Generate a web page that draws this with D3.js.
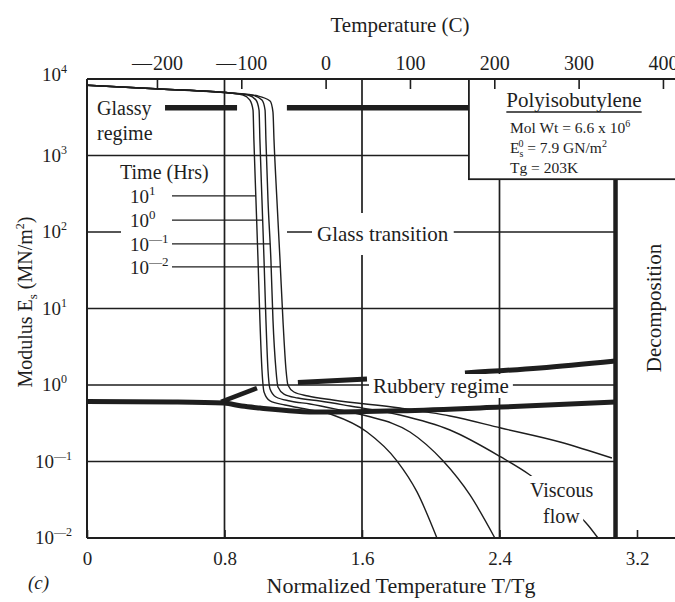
<!DOCTYPE html>
<html><head><meta charset="utf-8">
<script src="https://cdn.jsdelivr.net/npm/d3@7"></script>
<style>
body{margin:0;background:#fff}
svg{display:block}
text{font-family:"Liberation Serif","Times New Roman",serif;fill:#1e1e1e}
</style>
</head><body>
<svg id="chart" width="675" height="602"></svg>
<script>
// ---------- data ----------
const xTickValues = [0, 0.8, 1.6, 2.4, 3.2];
const yTickExponents = [4, 3, 2, 1, 0, -1, -2];
const topTickCelsius = [-200, -100, 0, 100, 200, 300, 400];
const timeExponents = ["1", "0", "—1", "—2"];
const timeLeaderE = [296, 143, 70, 35];

// shared glassy part of the four isochrones (T/Tg, modulus MN/m^2)
const glassyCommon = [[0, 8300], [0.425, 7400], [0.832, 6560]];
const curveHr10 = [[0.908,6180],[0.948,5310],[0.966,3930],[0.971,1600],[0.983,262],[0.995,43],[1.006,7.1],[1.018,1.57],[1.030,0.81],[1.065,0.618],[1.152,0.548],[1.239,0.50],[1.431,0.405],[1.629,0.243],[1.803,0.102],[1.920,0.040],[2.036,0.01]];
const curveHr1 = [[0.937,6180],[0.983,5310],[1.001,3930],[1.006,1600],[1.018,262],[1.030,43],[1.041,7.1],[1.053,1.57],[1.065,0.887],[1.0995,0.697],[1.181,0.618],[1.297,0.565],[1.472,0.471],[1.629,0.393],[1.879,0.243],[2.071,0.102],[2.228,0.0365],[2.373,0.01]];
const curveHr01 = [[0.960,6180],[1.018,5310],[1.036,3930],[1.041,1600],[1.053,262],[1.070,43],[1.082,7.1],[1.0995,1.57],[1.111,0.94],[1.146,0.762],[1.227,0.676],[1.355,0.618],[1.530,0.531],[1.821,0.405],[2.112,0.258],[2.408,0.1146],[2.577,0.0667],[2.781,0.0287],[2.914,0.0148],[2.973,0.01]];
const curveHr001 = [[0.995,5990],[1.065,5150],[1.082,3700],[1.088,1600],[1.105,262],[1.123,43],[1.140,7.1],[1.158,1.57],[1.169,1.0],[1.204,0.81],[1.286,0.718],[1.431,0.637],[1.821,0.50],[2.112,0.393],[2.408,0.274],[2.752,0.180],[3.054,0.111]];

// regime boundaries
const glassyBarE = 4200;
const glassyBarSpans = [[0.454, 0.873], [1.163, 2.222]];
const rubberyLower = [[0,0.61],[0.5,0.6],[0.797,0.58],[0.9,0.53],[1.006,0.50],[1.355,0.443],[1.821,0.46],[2.408,0.515],[3.075,0.60]];
const rubberyWedge = [[0.78,0.6],[0.989,0.91]];
const rubberyUpperA = [[1.227,1.08],[1.629,1.2]];
const rubberyUpperB = [[2.199,1.44],[2.635,1.67],[3.075,2.06]];
const decompositionT = 3.075;
const boxLeftT = 2.222, boxBottomE = 490;

// ---------- scales ----------
const svg = d3.select("#chart");
const x = d3.scaleLinear().domain([0, 3.2]).range([87, 637]);
const y = d3.scaleLog().domain([0.01, 10000]).range([538, 79]);
const xTop = d3.scaleLinear().domain([-200, 400]).range([x(0.407), x(3.351)]);
const xRightEdge = 676;

svg.append("rect").attr("width",675).attr("height",602).attr("fill","#fff");

const ink = "#1e1e1e";
const line = d3.line().x(d=>x(d[0])).y(d=>y(d[1]));
const smooth = d3.line().x(d=>x(d[0])).y(d=>y(d[1])).curve(d3.curveMonotoneX);

// ---------- grid ----------
const g = svg.append("g");
yTickExponents.filter(e=>e<4 && e>-2).forEach(e=>{
  g.append("line").attr("x1",x(0)).attr("x2",x(decompositionT))
   .attr("y1",y(10**e)).attr("y2",y(10**e))
   .attr("stroke",ink).attr("stroke-width",1.6);
});
// gap in the 10^2 line behind the time legend
g.append("rect").attr("x",121).attr("y",y(100)-3).attr("width",166).attr("height",6).attr("fill","#fff");
xTickValues.filter(v=>v>0 && v<3).forEach(v=>{
  g.append("line").attr("x1",x(v)).attr("x2",x(v))
   .attr("y1",y(1e4)).attr("y2",y(0.01))
   .attr("stroke",ink).attr("stroke-width",1.7);
});

// frame
g.append("line").attr("x1",x(0)).attr("x2",x(0)).attr("y1",y(1e4)).attr("y2",y(0.01)).attr("stroke",ink).attr("stroke-width",2);
g.append("line").attr("x1",x(0)).attr("x2",xRightEdge).attr("y1",y(1e4)).attr("y2",y(1e4)).attr("stroke",ink).attr("stroke-width",2);
g.append("line").attr("x1",x(0)).attr("x2",xRightEdge).attr("y1",y(0.01)).attr("y2",y(0.01)).attr("stroke",ink).attr("stroke-width",2);

// ---------- axes ----------
const topAxis = d3.axisTop(xTop).tickValues(topTickCelsius).tickSizeInner(-10).tickSizeOuter(0).tickPadding(9)
  .tickFormat(d => d < 0 ? "— " + Math.abs(d) : String(d));
const ta = svg.append("g").attr("transform",`translate(0,${y(1e4)})`).call(topAxis);
ta.select(".domain").remove();
ta.selectAll("line").attr("stroke",ink).attr("stroke-width",1.6);
ta.selectAll("text").attr("font-size",20).attr("fill",ink).style("font-family","'Liberation Serif',serif").style("word-spacing","-4px");

const bottomAxis = d3.axisBottom(x).tickValues(xTickValues).tickSizeInner(-8).tickSizeOuter(0).tickPadding(14)
  .tickFormat(d => d === 0 ? "0" : d.toFixed(1));
const ba = svg.append("g").attr("transform",`translate(0,${y(0.01)})`).call(bottomAxis);
ba.select(".domain").remove();
ba.selectAll("line").attr("stroke",ink).attr("stroke-width",1.6);
ba.selectAll("text").attr("font-size",19).attr("fill",ink).style("font-family","'Liberation Serif',serif");

function pow(sel, base, exp, baseSize, supSize, rise){
  sel.append("tspan").text(base).attr("font-size",baseSize);
  sel.append("tspan").text(exp).attr("font-size",supSize).attr("dy",-rise);
}
yTickExponents.forEach(e=>{
  const t = svg.append("text").attr("x", e >= 0 ? 42 : 35).attr("y", y(10**e) + 6 - (e===4?4:0));
  pow(t, "10", e < 0 ? "—" + Math.abs(e) : String(e), 19, 12, 8);
});

// axis titles
svg.append("text").attr("x",400).attr("y",32).attr("text-anchor","middle").attr("font-size",21).text("Temperature (C)");
svg.append("text").attr("x",401).attr("y",593).attr("text-anchor","middle").attr("font-size",22).text("Normalized Temperature T/Tg");
svg.append("text").attr("x",28).attr("y",589).attr("font-size",19).attr("font-style","italic").text("(c)");
{
  const t = svg.append("text").attr("transform","translate(32,302) rotate(-90)").attr("text-anchor","middle").attr("font-size",20);
  t.append("tspan").text("Modulus E");
  t.append("tspan").text("s").attr("font-size",13).attr("dy",5);
  t.append("tspan").text(" (MN/m").attr("dy",-5);
  t.append("tspan").text("2").attr("font-size",12).attr("dy",-8);
  t.append("tspan").text(")").attr("dy",8);
}

// ---------- regime boundaries ----------
const thick = svg.append("g").attr("fill","none").attr("stroke",ink).attr("stroke-linecap","butt");
glassyBarSpans.forEach(s=>{
  thick.append("path").attr("d", line([[s[0],glassyBarE],[s[1],glassyBarE]])).attr("stroke-width",5.5);
});
thick.append("path").attr("d", smooth(rubberyLower)).attr("stroke-width",5);
thick.append("path").attr("d", line(rubberyWedge)).attr("stroke-width",4.5);
thick.append("path").attr("d", line(rubberyUpperA)).attr("stroke-width",5);
thick.append("path").attr("d", smooth(rubberyUpperB)).attr("stroke-width",5);
thick.append("line").attr("x1",x(decompositionT)).attr("x2",x(decompositionT)).attr("y1",y(1e4)).attr("y2",y(0.01)).attr("stroke-width",4.5);

// ---------- isochrones ----------
const curves = [curveHr10, curveHr1, curveHr01, curveHr001].map(c => glassyCommon.concat(c));
const cg = svg.append("g").attr("fill","none").attr("stroke",ink).attr("stroke-width",1.4);
curves.forEach(c => cg.append("path").attr("d", smooth(c)));

// time legend
svg.append("text").attr("x",120).attr("y",179).attr("font-size",20).text("Time (Hrs)");
function curveXAtY(c, yPix){
  const pts = c.map(d=>[x(d[0]), y(d[1])]);
  for (let i=1;i<pts.length;i++){
    const a=pts[i-1], b=pts[i];
    if ((a[1]-yPix)*(b[1]-yPix) <= 0 && a[1]!==b[1]){
      return a[0] + (b[0]-a[0])*(yPix-a[1])/(b[1]-a[1]);
    }
  }
  return pts[pts.length-1][0];
}
timeExponents.forEach((e,i)=>{
  const yy = y(timeLeaderE[i]);
  svg.append("line").attr("x1",172).attr("x2",curveXAtY(curves[i], yy)).attr("y1",yy).attr("y2",yy)
    .attr("stroke",ink).attr("stroke-width",1.3);
  const t = svg.append("text").attr("x",130).attr("y",yy+7);
  pow(t, "10", e, 19, 13, 8);
});

// ---------- annotations ----------
function label(txt, xx, yy, size, pad){
  const t = svg.append("text").attr("x",xx).attr("y",yy).attr("font-size",size).text(txt);
  const b = t.node().getBBox();
  svg.insert("rect", () => t.node()).attr("x",b.x-pad[0]).attr("y",b.y-pad[1]).attr("width",b.width+2*pad[0]).attr("height",b.height+2*pad[1]).attr("fill","#fff");
  return t;
}
svg.append("text").attr("x",97).attr("y",115).attr("font-size",20).text("Glassy");
svg.append("text").attr("x",97).attr("y",140).attr("font-size",20).text("regime");
label("Glass transition", 317, 241, 21, [5,9]);
label("Rubbery regime", 373, 393, 21, [4,0]);
label("Viscous", 530, 497, 20, [3,3]);
label("flow", 543, 523, 20, [3,3]);
svg.append("text").attr("transform","translate(661,308) rotate(-90)").attr("text-anchor","middle").attr("font-size",21).text("Decomposition");

// ---------- info box ----------
svg.append("rect").attr("x",x(boxLeftT)).attr("y",y(1e4)).attr("width",xRightEdge + 20 - x(boxLeftT)).attr("height",y(boxBottomE)-y(1e4))
  .attr("fill","#fff").attr("stroke",ink).attr("stroke-width",1.8);
svg.append("line").attr("x1",x(boxLeftT)).attr("x2",xRightEdge).attr("y1",y(1e4)).attr("y2",y(1e4)).attr("stroke",ink).attr("stroke-width",2);
ta.raise();
{
  const t = svg.append("text").attr("x",574).attr("y",107).attr("text-anchor","middle").attr("font-size",21).text("Polyisobutylene");
  const b = t.node().getBBox();
  svg.append("line").attr("x1",b.x).attr("x2",b.x+b.width).attr("y1",112).attr("y2",112).attr("stroke",ink).attr("stroke-width",1.3);
  const m = svg.append("text").attr("x",510).attr("y",133).attr("font-size",15.5);
  m.append("tspan").text("Mol Wt =  6.6 x 10");
  m.append("tspan").text("6").attr("font-size",10).attr("dy",-6);
  const e = svg.append("text").attr("x",510).attr("y",153).attr("font-size",15.5);
  e.append("tspan").text("E");
  e.append("tspan").text("s").attr("font-size",10).attr("dy",4);
  e.append("tspan").text("0").attr("font-size",10).attr("dx",-5).attr("dy",-10);
  e.append("tspan").text(" = 7.9 GN/m").attr("dy",6);
  e.append("tspan").text("2").attr("font-size",10).attr("dy",-6);
  svg.append("text").attr("x",510).attr("y",173).attr("font-size",15.5).text("Tg = 203K");
}
</script>
</body></html>
